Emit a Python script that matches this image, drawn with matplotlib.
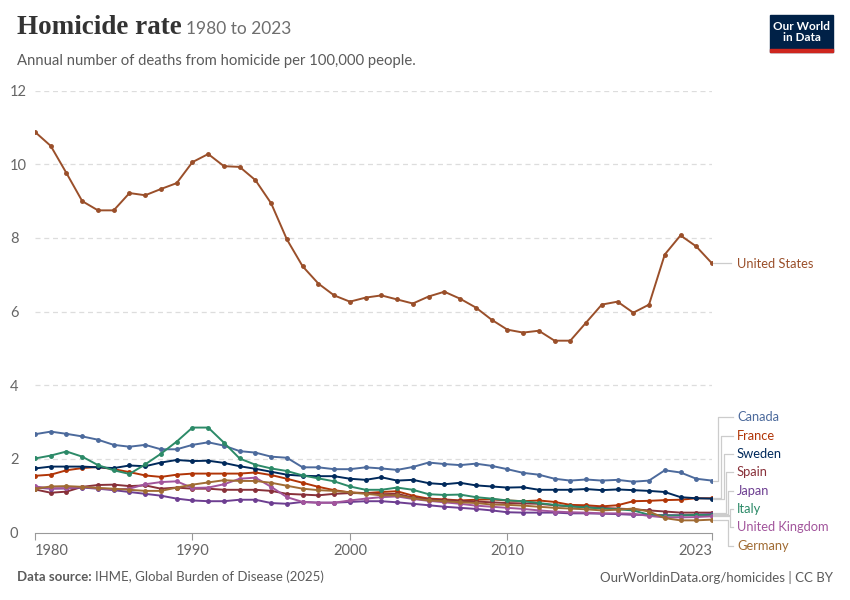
import matplotlib.pyplot as plt
from matplotlib.patches import Rectangle
import numpy as np

plt.rcParams['font.family'] = ['Lato', 'DejaVu Sans']

years = list(range(1980, 2024))

united_states = [10.88, 10.50, 9.76, 9.00, 8.75, 8.75, 9.22, 9.16, 9.33, 9.49,
                 10.06, 10.28, 9.95, 9.93, 9.57, 8.94, 7.96, 7.23, 6.76, 6.44,
                 6.27, 6.38, 6.44, 6.33, 6.22, 6.41, 6.54, 6.35, 6.11, 5.78,
                 5.51, 5.43, 5.48, 5.21, 5.21, 5.70, 6.19, 6.27, 5.97, 6.19,
                 7.55, 8.07, 7.77, 7.31]
canada = [2.67, 2.74, 2.68, 2.61, 2.52, 2.38, 2.33, 2.38, 2.26, 2.26,
          2.38, 2.45, 2.36, 2.21, 2.17, 2.06, 2.03, 1.77, 1.77, 1.72,
          1.72, 1.77, 1.74, 1.70, 1.78, 1.90, 1.86, 1.83, 1.87, 1.81,
          1.72, 1.62, 1.57, 1.46, 1.41, 1.44, 1.41, 1.43, 1.38, 1.41,
          1.69, 1.63, 1.46, 1.41]
france = [1.54, 1.57, 1.69, 1.75, 1.78, 1.72, 1.64, 1.55, 1.51, 1.57,
          1.60, 1.60, 1.60, 1.60, 1.63, 1.56, 1.46, 1.35, 1.24, 1.15,
          1.09, 1.07, 1.10, 1.12, 1.00, 0.92, 0.90, 0.87, 0.89, 0.90,
          0.87, 0.85, 0.87, 0.83, 0.75, 0.74, 0.71, 0.74, 0.85, 0.86,
          0.88, 0.89, 0.93, 0.93]
sweden = [1.74, 1.79, 1.79, 1.79, 1.77, 1.75, 1.82, 1.80, 1.90, 1.97,
          1.94, 1.95, 1.89, 1.80, 1.73, 1.65, 1.57, 1.54, 1.53, 1.53,
          1.46, 1.43, 1.50, 1.41, 1.43, 1.34, 1.31, 1.35, 1.28, 1.25,
          1.22, 1.23, 1.16, 1.16, 1.16, 1.18, 1.15, 1.17, 1.15, 1.13,
          1.10, 0.96, 0.93, 0.92]
spain = [1.17, 1.08, 1.11, 1.24, 1.29, 1.30, 1.26, 1.28, 1.19, 1.22,
         1.19, 1.19, 1.16, 1.16, 1.16, 1.13, 1.05, 1.03, 1.01, 1.05,
         1.07, 1.07, 1.04, 1.05, 0.95, 0.90, 0.88, 0.86, 0.84, 0.82,
         0.80, 0.79, 0.78, 0.74, 0.71, 0.69, 0.67, 0.65, 0.63, 0.60,
         0.57, 0.54, 0.54, 0.54]
japan = [1.22, 1.19, 1.20, 1.22, 1.19, 1.15, 1.10, 1.05, 1.00, 0.92,
         0.87, 0.85, 0.85, 0.89, 0.89, 0.80, 0.78, 0.83, 0.81, 0.81,
         0.83, 0.85, 0.85, 0.82, 0.78, 0.74, 0.70, 0.67, 0.64, 0.60,
         0.55, 0.54, 0.54, 0.54, 0.52, 0.52, 0.51, 0.50, 0.48, 0.48,
         0.47, 0.47, 0.48, 0.50]
italy = [2.01, 2.09, 2.20, 2.06, 1.83, 1.69, 1.59, 1.85, 2.14, 2.47,
         2.85, 2.85, 2.44, 2.01, 1.84, 1.74, 1.67, 1.55, 1.47, 1.39,
         1.25, 1.16, 1.16, 1.22, 1.16, 1.04, 1.02, 1.03, 0.96, 0.92,
         0.87, 0.85, 0.80, 0.75, 0.71, 0.68, 0.65, 0.63, 0.60, 0.48,
         0.46, 0.46, 0.48, 0.47]
united_kingdom = [1.25, 1.20, 1.20, 1.24, 1.20, 1.17, 1.19, 1.31, 1.37, 1.39,
                  1.21, 1.22, 1.31, 1.46, 1.49, 1.24, 0.96, 0.83, 0.81, 0.81,
                  0.87, 0.92, 0.96, 0.98, 0.91, 0.86, 0.82, 0.78, 0.73, 0.70,
                  0.67, 0.64, 0.60, 0.57, 0.55, 0.54, 0.52, 0.52, 0.51, 0.45,
                  0.41, 0.41, 0.42, 0.44]
germany = [1.19, 1.25, 1.26, 1.24, 1.21, 1.19, 1.16, 1.13, 1.13, 1.22,
           1.30, 1.36, 1.42, 1.40, 1.40, 1.35, 1.27, 1.19, 1.15, 1.13,
           1.09, 1.05, 1.01, 1.01, 0.93, 0.87, 0.85, 0.82, 0.80, 0.76,
           0.75, 0.73, 0.70, 0.67, 0.65, 0.63, 0.60, 0.62, 0.65, 0.57,
           0.39, 0.33, 0.33, 0.35]

countries = ["United States", "Canada", "France", "Sweden", "Spain", "Japan",
             "Italy", "United Kingdom", "Germany"]
series = [united_states, canada, france, sweden, spain, japan, italy,
          united_kingdom, germany]
colors = ["#9a4f2a", "#4c6a9c", "#b13507", "#00295b", "#883039", "#6d3e91",
          "#2c8a68", "#a2559c", "#a06b33"]

# label positions in pixels (y) and elbow x for each connector
label_py = [264, 417, 436, 454, 472, 491, 509, 527, 546]
elbow_px = [None, 718, 721, 723.5, 726, 728, 729.5, 729.5, 728]

W, H = 850, 600
x0_px, x1_px = 35, 712
y0_px, y12_px = 532.5, 90.7

fig = plt.figure(figsize=(W / 100, H / 100), dpi=100)
ax = fig.add_axes([x0_px / W, 1 - y0_px / H, (x1_px - x0_px) / W,
                   (y0_px - y12_px) / H])

def px_x(px):
    return 1980 + (px - x0_px) / (x1_px - x0_px) * 43

def px_y(py):
    return (y0_px - py) / (y0_px - y12_px) * 12

for vals, col in zip(series, colors):
    ax.plot(years, vals, color=col, lw=1.4, marker='o', ms=2.5, zorder=3)

ax.set_xlim(1980, 2023)
ax.set_ylim(0, 12)
ax.set_yticks(range(0, 13, 2))
ax.set_xticks([1980, 1990, 2000, 2010, 2023])
for y in range(2, 13, 2):
    ax.axhline(y, color="#dddddd", lw=0.9, ls=(0, (4, 3)), zorder=1)

for s in ["top", "right", "left"]:
    ax.spines[s].set_visible(False)
ax.spines["bottom"].set_color("#999999")
ax.tick_params(axis='y', length=0, pad=18, labelsize=10.5, labelcolor="#666666")
ax.tick_params(axis='x', length=5, color="#999999", labelsize=10.5,
               labelcolor="#666666", pad=3)
for lab in ax.get_yticklabels():
    lab.set_horizontalalignment('left')
xl = ax.get_xticklabels()
xl[0].set_horizontalalignment('left')
xl[-1].set_horizontalalignment('right')

# end labels with connectors
for name, vals, col, ly, ex in zip(countries, series, colors, label_py, elbow_px):
    yl = px_y(ly)
    if ex is None:
        ax.plot([2023, px_x(731)], [vals[-1], vals[-1]], color="#cccccc",
                lw=0.9, clip_on=False, zorder=2)
    else:
        xe = px_x(ex)
        ax.plot([2023, xe, xe, px_x(733)], [vals[-1], vals[-1], yl, yl],
                color="#cccccc", lw=0.9, clip_on=False, zorder=2)
    ax.text(px_x(737), yl, name, color=col, fontsize=9.3, va='center',
            ha='left', clip_on=False)

# title block
fig.text(17 / W, 1 - 34 / H, "Homicide rate", fontsize=19.5, fontweight='bold',
         family='Liberation Serif', color="#333333", va='baseline')
fig.text(186 / W, 1 - 34 / H, "1980 to 2023", fontsize=12.5,
         color="#6e6e6e", va='baseline')
fig.text(17 / W, 1 - 61 / H,
         "Annual number of deaths from homicide per 100,000 people.",
         fontsize=10.7, color="#5b5b5b", va='center')

# logo
fig.patches.append(Rectangle((770 / W, 1 - 52 / H), 63 / W, 37 / H,
                             transform=fig.transFigure, color="#002147"))
fig.patches.append(Rectangle((770 / W, 1 - 52 / H), 63 / W, 3 / H,
                             transform=fig.transFigure, color="#ce261e"))
fig.text(801.5 / W, 1 - 32 / H, "Our World\nin Data", color="white",
         fontsize=8.5, fontweight='bold', ha='center', va='center',
         linespacing=1.0)

# footer
t1 = fig.text(17 / W, 1 - 577 / H, "Data source:", fontsize=9.5,
              fontweight='bold', color="#5b5b5b", va='center')
fig.canvas.draw()
bb = t1.get_window_extent()
fig.text((bb.x1 + 3) / W, 1 - 577 / H,
         "IHME, Global Burden of Disease (2025)", fontsize=9.5,
         color="#5b5b5b", va='center')
fig.text(833 / W, 1 - 577 / H, "OurWorldinData.org/homicides | CC BY",
         fontsize=9.5, color="#5b5b5b", va='center', ha='right')

fig.savefig("out.png", dpi=100)
